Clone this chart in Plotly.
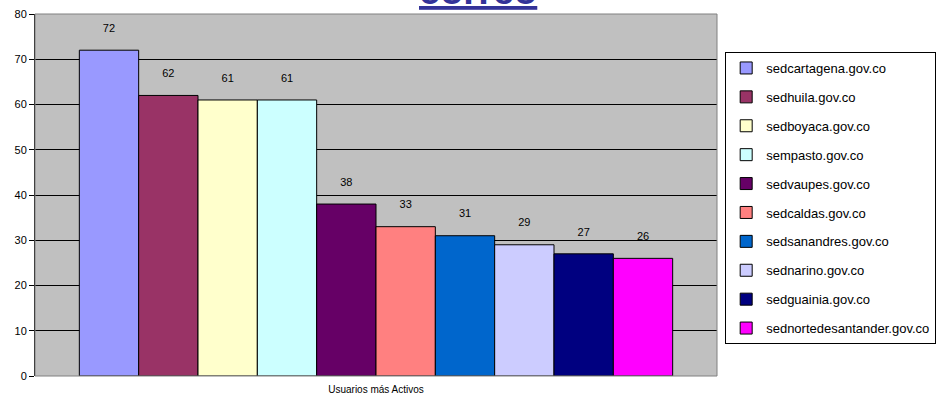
import plotly.graph_objects as go

domains = ["sedcartagena.gov.co", "sedhuila.gov.co", "sedboyaca.gov.co", "sempasto.gov.co",
           "sedvaupes.gov.co", "sedcaldas.gov.co", "sedsanandres.gov.co", "sednarino.gov.co",
           "sedguainia.gov.co", "sednortedesantander.gov.co"]
values = [72, 62, 61, 61, 38, 33, 31, 29, 27, 26]
colors = ["#9999FF", "#993366", "#FFFFCC", "#CCFFFF", "#660066", "#FF8080", "#0066CC",
          "#CCCCFF", "#000080", "#FF00FF"]
category = "Usuarios más Activos"
title_text = "correo"

fig = go.Figure()
for d, v, c in zip(domains, values, colors):
    fig.add_trace(go.Bar(
        x=[category], y=[v], name=d, legendgroup=d,
        marker=dict(color=c, line=dict(color="black", width=1)),
        text=[str(v)], textposition="outside", cliponaxis=False,
        texttemplate="%{text}<br><span style='font-size:4px'> </span>",
        textfont=dict(family="Arial", size=11, color="black"),
    ))

fig.update_layout(
    width=937, height=405,
    margin=dict(l=35, r=220, t=14, b=29, autoexpand=False),
    paper_bgcolor="white", plot_bgcolor="#C0C0C0",
    barmode="group", bargap=0.13, bargroupgap=0,
    font=dict(family="Arial", size=11, color="black"),
    showlegend=True,
    legend=dict(x=1.012, xanchor="left", y=0.895, yanchor="top",
                bordercolor="black", borderwidth=1, bgcolor="white",
                font=dict(family="Arial", size=13, color="black"),
                tracegroupgap=9, itemwidth=30, traceorder="grouped"),
    xaxis=dict(showgrid=False, showline=False, ticks="", tickfont=dict(size=10),
               ticklabelstandoff=6, automargin=False),
    yaxis=dict(range=[0, 80], dtick=10, showgrid=True, gridcolor="black", gridwidth=1,
               showline=True, linecolor="black", ticks="outside", ticklen=5,
               tickcolor="black", zeroline=False, tickfont=dict(size=11), automargin=False),
    shapes=[dict(type="rect", xref="paper", yref="paper", x0=0, x1=1, y0=0, y1=1,
                 line=dict(color="#808080", width=1), layer="above")],
    annotations=[dict(text="<b><u>" + title_text + "</u></b>", xref="paper", yref="paper",
                      x=0.649, y=1, yanchor="bottom", showarrow=False, yshift=0,
                      font=dict(family="Arial", size=38, color="#333399"))],
)

fig.write_html("out.html", config={"displayModeBar": False})

# remove the browser's default body margin so the figure starts at the page corner
with open("out.html", encoding="utf-8") as f:
    html = f.read()
html = html.replace("<head>", "<head><style>body{margin:0;overflow:hidden}</style>", 1)
with open("out.html", "w", encoding="utf-8") as f:
    f.write(html)
